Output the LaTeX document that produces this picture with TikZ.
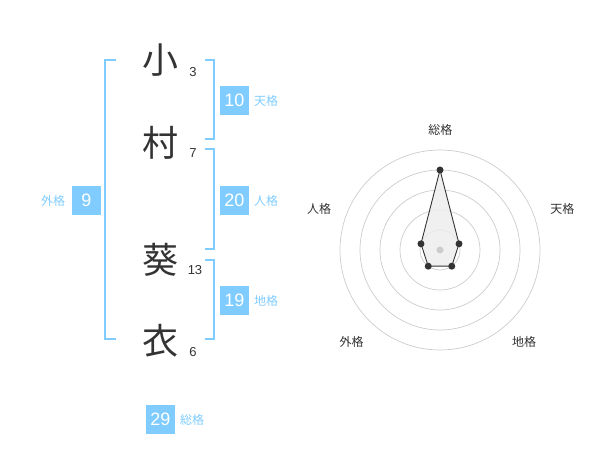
\documentclass[tikz,border=0pt]{standalone}
\usepackage{fontspec}
\setmainfont{Liberation Sans}
\newfontfamily\jp{Noto Sans CJK JP}
\definecolor{sky}{HTML}{80CCFF}
\definecolor{ink}{HTML}{333333}
\definecolor{ring}{HTML}{CCCCCC}
\tikzset{
  kanji/.style={font=\jp\fontsize{36}{36}\selectfont, text=ink, inner sep=0pt},
  strokes/.style={font=\fontsize{13}{13}\selectfont, text=ink, inner sep=0pt},
  numbox/.style={fill=sky, text=white, minimum width=29pt, minimum height=29pt, inner sep=0pt, font=\fontsize{18}{18}\selectfont},
  kaku/.style={font=\jp\fontsize{12}{12}\selectfont, text=sky, inner sep=0pt},
  bracket/.style={draw=sky, line width=2pt},
  radlabel/.style={font=\jp\fontsize{12}{12}\selectfont, text=ink, inner sep=0pt},
  ringline/.style={draw=ring, line width=0.7pt},
  dotmark/.style={circle, fill=ink, inner sep=0pt, minimum size=7pt},
}
\begin{document}
\begin{tikzpicture}[x=1pt,y=-1pt]
\useasboundingbox (0,0) rectangle (600,470);
% kanji
\node[kanji] (k1) at (160,60) {小};
\node[kanji] (k2) at (160,143) {村};
\node[kanji] (k3) at (160,260) {葵};
\node[kanji] (k4) at (160,341) {衣};
\node[strokes] (s1) at (193,72) {3};
\node[strokes] (s2) at (193,153) {7};
\node[strokes] (s3) at (195,270) {13};
\node[strokes] (s4) at (193,352) {6};
% brackets
\draw[bracket] (116,60) -- (105,60) -- (105,339) -- (116,339);
\draw[bracket] (205,60) -- (214.3,60) -- (214.3,139) -- (205,139);
\draw[bracket] (205,149) -- (214.3,149) -- (214.3,249) -- (205,249);
\draw[bracket] (205,260) -- (214.3,260) -- (214.3,339) -- (205,339);
% boxes
\node[numbox] (ten) at (234.5,100.5) {10};
\node[kaku] (tenl) at (266,101) {天格};
\node[numbox] (jin) at (234.5,200.5) {20};
\node[kaku] (jinl) at (266,201) {人格};
\node[numbox] (chi) at (234.5,300.5) {19};
\node[kaku] (chil) at (266,301) {地格};
\node[numbox] (gai) at (86.5,200.5) {9};
\node[kaku] (gail) at (53,201) {外格};
\node[numbox] (sou) at (160.5,419.5) {29};
\node[kaku] (soul) at (192,420) {総格};
% radar
\coordinate (c) at (440,250);
\foreach \r in {20,40,60,80,100} \draw[ringline] (c) circle[radius=\r pt];
\coordinate (p1) at (440,170);
\coordinate (p2) at (459.02,243.82);
\coordinate (p3) at (451.76,266.18);
\coordinate (p4) at (428.24,266.18);
\coordinate (p5) at (420.98,243.82);
\fill[black!7, opacity=0.85] (p1) -- (p2) -- (p3) -- (p4) -- (p5) -- cycle;
\node[circle, fill=ring, inner sep=0pt, minimum size=7pt] (cd) at (c) {};
\draw[ink, line width=0.9pt, line join=round] (p1) -- (p2) -- (p3) -- (p4) -- (p5) -- cycle;
\foreach \p in {p1,p2,p3,p4,p5} \node[dotmark] (d\p) at (\p) {};
\node[radlabel] (r1) at (440.3,130) {総格};
\node[radlabel] (r2) at (562.3,209) {天格};
\node[radlabel] (r3) at (524,342.3) {地格};
\node[radlabel] (r4) at (351.7,342.3) {外格};
\node[radlabel] (r5) at (319,209) {人格};
\end{tikzpicture}
\end{document}
